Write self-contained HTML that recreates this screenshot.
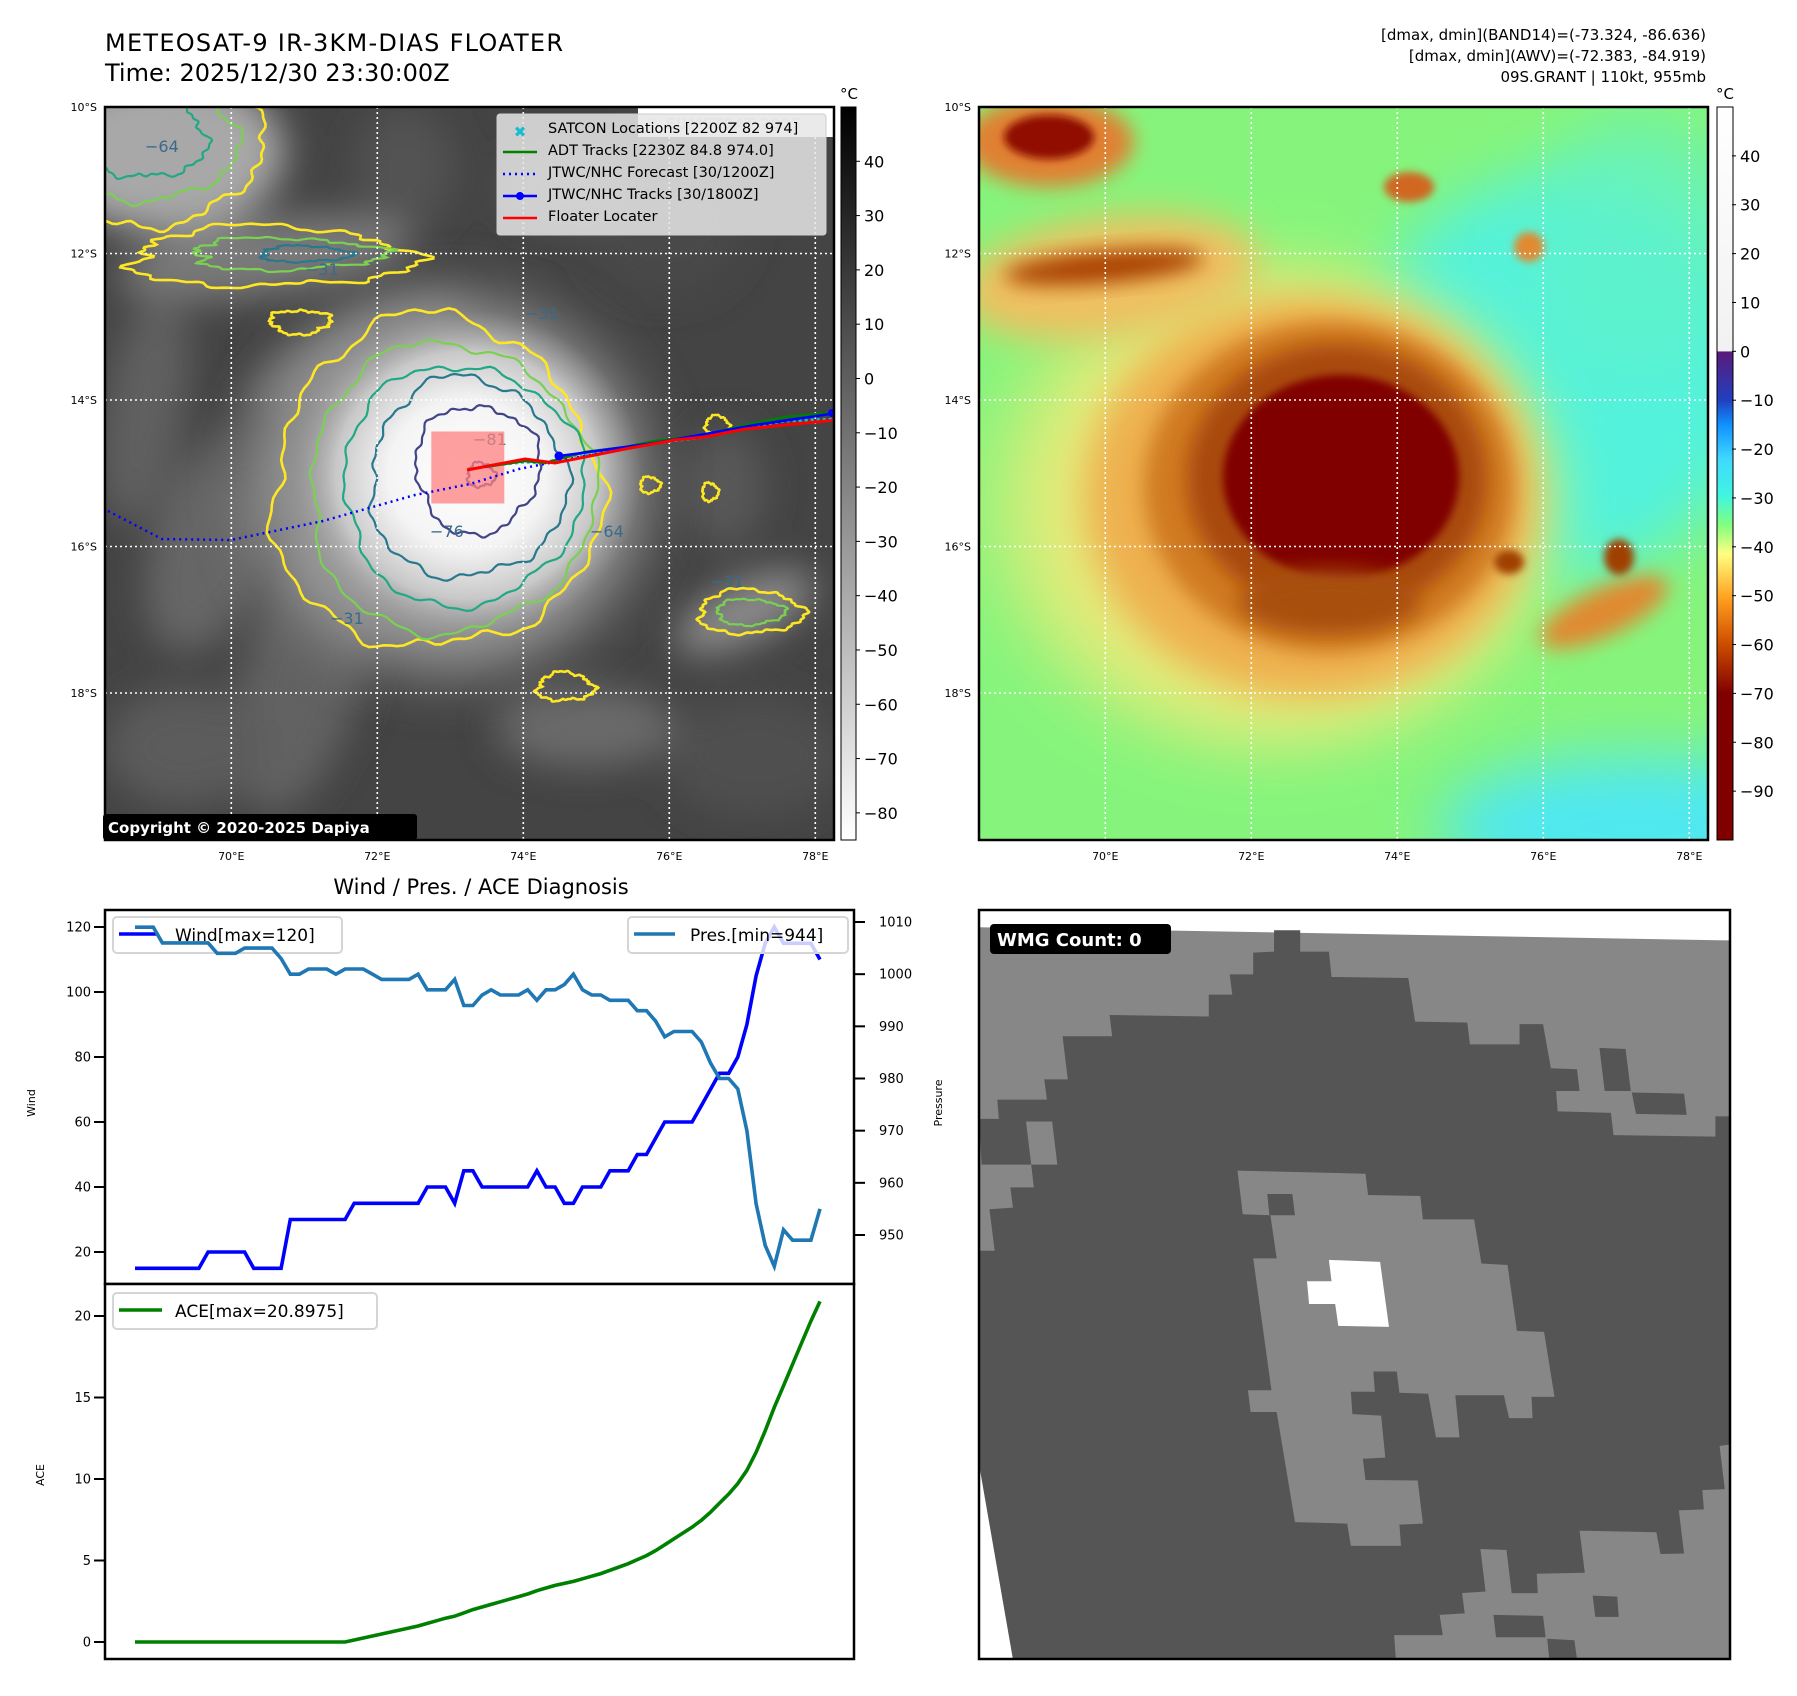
<!DOCTYPE html>
<html><head><meta charset="utf-8"><title>METEOSAT-9 IR Floater</title>
<style>
html,body{margin:0;padding:0;background:#fff;}
svg{display:block;font-family:"DejaVu Sans","Liberation Sans",sans-serif;}
</style></head>
<body>
<svg id="root" width="1797" height="1696" viewBox="0 0 1797 1696" xmlns="http://www.w3.org/2000/svg">
<defs>
  <filter id="b4" x="-50%" y="-50%" width="200%" height="200%"><feGaussianBlur stdDeviation="4"/></filter>
  <filter id="b10" x="-50%" y="-50%" width="200%" height="200%"><feGaussianBlur stdDeviation="10"/></filter>
  <filter id="b18" x="-50%" y="-50%" width="200%" height="200%"><feGaussianBlur stdDeviation="18"/></filter>
  <filter id="b30" x="-50%" y="-50%" width="200%" height="200%"><feGaussianBlur stdDeviation="30"/></filter>
  <clipPath id="clipIR"><rect x="0" y="0" width="729" height="733"/></clipPath>
  <clipPath id="clipAWV"><rect x="0" y="0" width="729" height="733"/></clipPath>
  <radialGradient id="coreIR" cx="0.5" cy="0.5" r="0.5">
    <stop offset="0" stop-color="#ffffff"/>
    <stop offset="0.45" stop-color="#f4f4f4"/>
    <stop offset="0.75" stop-color="#c8c8c8"/>
    <stop offset="1" stop-color="#9a9a9a" stop-opacity="0"/>
  </radialGradient>
  <linearGradient id="cbIR" x1="0" y1="0" x2="0" y2="1">
    <stop offset="0" stop-color="#000"/><stop offset="1" stop-color="#fff"/>
  </linearGradient>
  <linearGradient id="cbAWV" x1="0" y1="0" x2="0" y2="1">
    <stop offset="0" stop-color="#ffffff"/>
    <stop offset="0.32" stop-color="#f2f2f2"/>
    <stop offset="0.333" stop-color="#f2f2f2"/>
    <stop offset="0.334" stop-color="#5a1a7a"/>
    <stop offset="0.40" stop-color="#2040c0"/>
    <stop offset="0.433" stop-color="#1090ff"/>
    <stop offset="0.48" stop-color="#40d8ff"/>
    <stop offset="0.53" stop-color="#40f5e0"/>
    <stop offset="0.57" stop-color="#80ff80"/>
    <stop offset="0.61" stop-color="#ffff80"/>
    <stop offset="0.67" stop-color="#ffa020"/>
    <stop offset="0.73" stop-color="#d05000"/>
    <stop offset="0.80" stop-color="#800000"/>
    <stop offset="1" stop-color="#800000"/>
  </linearGradient>
</defs>

<!-- ===== Titles ===== -->
<text x="105" y="51" font-size="24" fill="#000" textLength="458">METEOSAT-9 IR-3KM-DIAS FLOATER</text>
<text x="105" y="81" font-size="24" fill="#000">Time: 2025/12/30 23:30:00Z</text>
<g font-size="15" fill="#000" text-anchor="end">
  <text x="1706" y="40">[dmax, dmin](BAND14)=(-73.324, -86.636)</text>
  <text x="1706" y="61">[dmax, dmin](AWV)=(-72.383, -84.919)</text>
  <text x="1706" y="82">09S.GRANT | 110kt, 955mb</text>
</g>

<!-- ===== IR map ===== -->
<g id="irmap" transform="translate(105,107)">
  <g clip-path="url(#clipIR)">
    <rect x="0" y="0" width="732" height="733" fill="#444444"/>
    <g id="irTexture" filter="url(#b18)"></g>
    <ellipse cx="345" cy="378" rx="195" ry="185" fill="#9a9a9a" filter="url(#b30)"/>
    <ellipse cx="362" cy="368" rx="175" ry="165" fill="url(#coreIR)"/>
    <g id="irContours" fill="none" stroke-width="2.2"></g>
    <g id="gridIR" stroke="#fff" stroke-width="1.6" stroke-dasharray="2,3"></g>
    <g id="tracks"></g>
    <rect x="533" y="0" width="195" height="30" fill="#fff"/>
    <text x="540" y="22" font-size="15" fill="#dcdcdc" font-weight="bold">© EUMETSAT 2025</text>
  </g>
  <rect x="0" y="0" width="729" height="733" fill="none" stroke="#000" stroke-width="2.5"/>
</g>
<!-- IR legend -->
<g>
  <rect x="497" y="114" width="329" height="121" rx="3" fill="#e6e6e6" fill-opacity="0.85" stroke="#cfcfcf"/>
  <text x="520" y="137" font-size="15" font-weight="bold" fill="#17becf" text-anchor="middle">✖</text>
  <line x1="503" y1="152" x2="537" y2="152" stroke="#008000" stroke-width="2.5"/>
  <line x1="503" y1="174" x2="537" y2="174" stroke="#0000ff" stroke-width="2.5" stroke-dasharray="2,4"/>
  <line x1="503" y1="196" x2="537" y2="196" stroke="#0000ff" stroke-width="2.5"/>
  <circle cx="520" cy="196" r="4" fill="#0000ff"/>
  <line x1="503" y1="218" x2="537" y2="218" stroke="#ff0000" stroke-width="2.5"/>
  <g font-size="14.5" fill="#000">
    <text x="548" y="133">SATCON Locations [2200Z 82 974]</text>
    <text x="548" y="155">ADT Tracks [2230Z 84.8 974.0]</text>
    <text x="548" y="177">JTWC/NHC Forecast [30/1200Z]</text>
    <text x="548" y="199">JTWC/NHC Tracks [30/1800Z]</text>
    <text x="548" y="221">Floater Locater</text>
  </g>
</g>
<g>
  <rect x="103" y="814" width="314" height="26" rx="3" fill="#000"/>
  <text x="108" y="833" font-size="15" font-weight="bold" fill="#fff">Copyright © 2020-2025 Dapiya</text>
</g>
<!-- IR colorbar -->
<g>
  <rect x="841" y="107" width="15" height="733" fill="url(#cbIR)" stroke="#000" stroke-width="1"/>
  <text x="849" y="99" font-size="15" text-anchor="middle">°C</text>
  <g id="cbIRticks" font-size="16" fill="#000"></g>
</g>

<!-- ===== AWV map ===== -->
<g id="awvmap" transform="translate(979,107)">
  <g clip-path="url(#clipAWV)">
    <rect x="0" y="0" width="733" height="733" fill="#86f47c"/>
    <g id="awvFill"></g>
    <g id="gridAWV" stroke="#fff" stroke-width="1.6" stroke-dasharray="2,3"></g>
  </g>
  <rect x="0" y="0" width="729" height="733" fill="none" stroke="#000" stroke-width="2.5"/>
</g>
<g>
  <rect x="1717" y="107" width="16" height="733" fill="url(#cbAWV)" stroke="#000" stroke-width="1"/>
  <text x="1725" y="99" font-size="15" text-anchor="middle">°C</text>
  <g id="cbAWVticks" font-size="16" fill="#000"></g>
</g>

<!-- ===== Diagnosis chart ===== -->
<text x="481" y="894" font-size="21" text-anchor="middle">Wind / Pres. / ACE Diagnosis</text>
<g id="chart"></g>

<!-- ===== WMG panel ===== -->
<g transform="translate(979,910)">
  <svg x="0" y="0" width="751" height="749" viewBox="0 18 1438 1477" preserveAspectRatio="none">
    <rect x="0" y="18" width="1438" height="1477" fill="#fff"/>
    <polygon points="0,52 1438,78 1438,1495 65,1495 0,1110" fill="#878787"/>
    <polygon fill="#555555" points="565,58 615,58 615,100 670,100 675,150 822,152 835,238 935,240 940,283 1035,283 1035,243 1080,243 1095,330 1145,332 1150,375 1105,375 1108,415 1210,418 1215,462 1410,465 1410,425 1438,425 1438,1072 1418,1075 1428,1160 1385,1162 1388,1200 1340,1202 1350,1287 1305,1288 1297,1245 1150,1242 1160,1325 1068,1327 1070,1365 1020,1365 1010,1280 960,1278 970,1362 925,1365 930,1405 882,1408 888,1448 795,1448 798,1495 65,1495 0,1110 0,690 30,690 20,608 65,605 60,565 105,565 100,520 5,520 0,430 38,430 35,392 130,392 125,352 170,352 160,267 255,267 250,225 440,228 440,185 485,185 480,145 525,145 525,102 565,100"/>
    <polygon fill="#878787" points="90,435 140,435 150,520 100,520"/>
    <polygon fill="#878787" points="495,532 740,538 745,580 845,582 850,628 948,628 962,715 1012,718 1030,848 1082,850 1102,978 1058,978 1060,1020 1015,1020 1005,975 912,975 920,1058 875,1058 860,972 805,970 800,928 755,928 758,968 712,968 715,1012 770,1015 778,1098 735,1100 740,1142 840,1143 850,1228 805,1230 808,1272 712,1272 705,1228 605,1225 570,1008 520,1008 515,965 560,965 525,705 570,705 558,620 505,618"/>
    <polygon fill="#555555" points="552,578 600,578 605,620 556,620"/>
    <polygon fill="#ffffff" points="670,708 768,712 785,840 688,838 682,795 632,795 628,750 675,750"/>
    <polygon fill="#555555" points="1188,290 1238,292 1248,375 1198,375"/>
    <polygon fill="#555555" points="1250,378 1350,380 1355,422 1258,420"/>
    <polygon fill="#555555" points="1175,1370 1222,1372 1225,1412 1180,1412"/>
    <polygon fill="#555555" points="985,1408 1080,1410 1085,1452 990,1452"/>
    <polygon fill="#555555" points="1088,1455 1140,1458 1145,1495 1092,1495"/>
  </svg>
  <rect x="0" y="0" width="751" height="749" fill="none" stroke="#000" stroke-width="2.5"/>
  <rect x="11" y="14" width="181" height="30" rx="4" fill="#000"/>
  <text x="18" y="36" font-size="18" font-weight="bold" fill="#fff">WMG Count: 0</text>
</g>

<script>
// ---------------- Chart data (6-hourly) ----------------
const windKt = [15,15,15,15,15,15,15,15,20,20,20,20,20,15,15,15,15,30,30,30,30,30,30,30,35,35,35,35,35,35,35,35,40,40,40,35,45,45,40,40,40,40,40,40,45,40,40,35,35,40,40,40,45,45,45,50,50,55,60,60,60,60,65,70,75,75,80,90,105,115,120,115,115,115,115,110];
const presMb = [1009,1009,1009,1006,1006,1006,1006,1006,1006,1004,1004,1004,1005,1005,1005,1005,1003,1000,1000,1001,1001,1001,1000,1001,1001,1001,1000,999,999,999,999,1000,997,997,997,999,994,994,996,997,996,996,996,997,995,997,997,998,1000,997,996,996,995,995,995,993,993,991,988,989,989,989,987,983,980,980,978,970,956,948,944,951,949,949,949,955];
const aceVals = [0,0,0,0,0,0,0,0,0,0,0,0,0,0,0,0,0,0,0,0,0,0,0,0,0.1225,0.245,0.3675,0.49,0.6125,0.735,0.8575,0.98,1.14,1.3,1.46,1.5825,1.785,1.9875,2.1475,2.3075,2.4675,2.6275,2.7875,2.9475,3.15,3.31,3.47,3.5925,3.715,3.875,4.035,4.195,4.3975,4.6,4.8025,5.0525,5.3025,5.605,5.965,6.325,6.685,7.045,7.4675,7.9575,8.52,9.0825,9.7225,10.5325,11.635,12.9575,14.3975,15.72,17.0425,18.365,19.6875,20.8975];
const windTicks = [20,40,60,80,100,120];
const presTicks = [950,960,970,980,990,1000,1010];
const aceTicks = [0,5,10,15,20];
const irTicks = [40,30,20,10,0,-10,-20,-30,-40,-50,-60,-70,-80];
const awvTicks = [40,30,20,10,0,-10,-20,-30,-40,-50,-60,-70,-80,-90];
const latTicks = [10,12,14,16,18];
const lonTicks = [70,72,74,76,78];

const NS = 'http://www.w3.org/2000/svg';
function mk(tag, attrs, parent){const e=document.createElementNS(NS,tag);for(const k in attrs)e.setAttribute(k,attrs[k]);if(parent)parent.appendChild(e);return e;}
function txt(s){return s<0?'\u2212'+Math.abs(s):String(s);}

const X0=105, X1=854, TOP=910, MID=1284, BOT=1659;
const xi = i => 135 + i*(820-135)/(windKt.length-1);
const yW = v => 1252 - (v-20)*3.25;
const yP = p => 1235 - (p-950)*(313/60);
const yA = a => 1642 - a*16.3;

const chart = document.getElementById('chart');
let f1 = mk('rect',{x:X0,y:TOP,width:X1-X0,height:MID-TOP,fill:'#fff',stroke:'#000','stroke-width':2.5},chart);


let f2 = mk('rect',{x:X0,y:MID,width:X1-X0,height:BOT-MID,fill:'#fff',stroke:'#000','stroke-width':2.5},chart);



windTicks.forEach(v=>{
  mk('line',{x1:X0-11,y1:yW(v),x2:X0,y2:yW(v),stroke:'#000','stroke-width':2},chart);
  const t=mk('text',{x:X0-14,y:yW(v)+4.5,'font-size':13,'text-anchor':'end'},chart);t.textContent=v;
  
  
});
presTicks.forEach(v=>{
  mk('line',{x1:X1,y1:yP(v),x2:X1+11,y2:yP(v),stroke:'#000','stroke-width':2},chart);
  const t=mk('text',{x:X1+25,y:yP(v)+4.5,'font-size':13},chart);t.textContent=v;
  
  
});
aceTicks.forEach(v=>{
  mk('line',{x1:X0-11,y1:yA(v),x2:X0,y2:yA(v),stroke:'#000','stroke-width':2},chart);
  const t=mk('text',{x:X0-14,y:yA(v)+4.5,'font-size':13,'text-anchor':'end'},chart);t.textContent=v;
  
  
});
let yl=mk('text',{x:0,y:0,'font-size':11,'text-anchor':'middle',transform:'translate(35,1103) rotate(-90)'},chart);yl.textContent='Wind';


let yl2=mk('text',{x:0,y:0,'font-size':11,'text-anchor':'middle',transform:'translate(942,1103) rotate(-90)'},chart);yl2.textContent='Pressure';


let yl3=mk('text',{x:0,y:0,'font-size':11,'text-anchor':'middle',transform:'translate(44,1475) rotate(-90)'},chart);yl3.textContent='ACE';



function poly(vals, yf){return vals.map((v,i)=>xi(i).toFixed(1)+','+yf(v).toFixed(1)).join(' ');}
let wl=mk('polyline',{points:poly(windKt,yW),fill:'none',stroke:'#0000ff','stroke-width':3.6,'stroke-linejoin':'miter'},chart);


let lg1=mk('g',{},chart);


mk('rect',{x:113,y:917,width:229,height:36,rx:4,fill:'#fff','fill-opacity':0.8,stroke:'#d5d5d5','stroke-width':2},lg1);
mk('line',{x1:119,y1:934,x2:158,y2:934,stroke:'#0000ff','stroke-width':3.6},lg1);
let lt1=mk('text',{x:175,y:941,'font-size':17},lg1);lt1.textContent='Wind[max=120]';
let pl=mk('polyline',{points:poly(presMb,yP),fill:'none',stroke:'#1f77b4','stroke-width':3.6},chart);


let lg2=mk('g',{},chart);


mk('rect',{x:628,y:917,width:220,height:36,rx:4,fill:'#fff','fill-opacity':0.8,stroke:'#d5d5d5','stroke-width':2},lg2);
mk('line',{x1:634,y1:934,x2:675,y2:934,stroke:'#1f77b4','stroke-width':3.6},lg2);
let lt2=mk('text',{x:690,y:941,'font-size':17},lg2);lt2.textContent='Pres.[min=944]';
let al=mk('polyline',{points:poly(aceVals,yA),fill:'none',stroke:'#008000','stroke-width':3.6},chart);


let lg3=mk('g',{},chart);


mk('rect',{x:113,y:1293,width:264,height:36,rx:4,fill:'#fff','fill-opacity':0.8,stroke:'#d5d5d5','stroke-width':2},lg3);
mk('line',{x1:119,y1:1310,x2:162,y2:1310,stroke:'#008000','stroke-width':3.6},lg3);
let lt3=mk('text',{x:175,y:1317,'font-size':17},lg3);lt3.textContent='ACE[max=20.8975]';

// ---------------- map helpers ----------------
const LON0=68.27, LAT0=10, PX=73.0;
const mx = lon => (lon-LON0)*PX;
const my = lat => (lat-LAT0)*73.25;

function grid(id){
  const g=document.getElementById(id);
  [12,14,16,18].forEach(l=>mk('line',{x1:0,y1:my(l),x2:733,y2:my(l)},g));
  lonTicks.forEach(l=>mk('line',{x1:mx(l),y1:0,x2:mx(l),y2:733},g));
}
grid('gridIR'); grid('gridAWV');

function mapLabels(ox){
  latTicks.forEach(l=>{
    const t=mk('text',{x:ox-8,y:107+my(l)+4,'font-size':11,'text-anchor':'end'},document.getElementById('root'));
    t.textContent=l+'°S';
    
    
  });
  lonTicks.forEach(l=>{
    const t=mk('text',{x:ox+mx(l),y:860,'font-size':11,'text-anchor':'middle'},document.getElementById('root'));
    t.textContent=l+'°E';
    
    
  });
}
mapLabels(105); mapLabels(979);

function cbTicks(id, ticks, x, vTop, vBot){
  const g=document.getElementById(id);
  ticks.forEach(v=>{
    const y=107+(vTop-v)/(vTop-vBot)*733;
    mk('line',{x1:x-8,y1:y,x2:x-4,y2:y,stroke:'#000','stroke-width':1},g);
    const t=mk('text',{x:x,y:y+6},g);t.textContent=txt(v);
    
    
  });
}
cbTicks('cbIRticks',irTicks,864,50,-85);
cbTicks('cbAWVticks',awvTicks,1740,50,-100);

function ring(cx,cy,rx,ry,amp,ph){
  let d='';const n=160;
  for(let k=0;k<=n;k++){
    const t=k/n*Math.PI*2;
    const r=1+amp*(0.5*Math.sin(3*t+ph)+0.3*Math.sin(7*t+ph*2)+0.25*Math.sin(13*t+ph*3)+0.15*Math.sin(29*t+ph));
    const x=cx+rx*r*Math.cos(t), y=cy+ry*r*Math.sin(t);
    d+=(k?'L':'M')+x.toFixed(1)+','+y.toFixed(1);
  }
  return d+'Z';
}
const tex=document.getElementById('irTexture');
[[60,45,120,80,'#a8a8a8',0],[160,150,150,38,'#7a7a7a',-8],[250,250,120,40,'#6a6a6a',-25],[200,560,60,150,'#626262',15],[110,430,60,120,'#666',20],
 [640,505,75,30,'#8a8a8a',-25],[560,120,80,70,'#4a4a4a',0],[480,620,90,40,'#6a6a6a',0],[80,640,80,60,'#5c5c5c',0],[650,650,90,60,'#505050',0],
 [460,80,60,40,'#585858',0],[300,60,50,60,'#525252',0],[40,300,40,120,'#606060',10],[620,380,40,60,'#585858',0],[150,350,50,30,'#5c5c5c',0]].forEach(a=>{
  mk('ellipse',{cx:a[0],cy:a[1],rx:a[2],ry:a[3],fill:a[4],transform:`rotate(${a[5]} ${a[0]} ${a[1]})`},tex);
});
const cg=document.getElementById('irContours');
function cont(d,c,w){const p=mk('path',{d:d,stroke:c,'stroke-width':w||2.2},cg);return p;}
cont(ring(330,378,163,166,0.09,0.4),'#fde725',2.6);
cont(ring(345,382,142,145,0.07,1.3),'#7ad151');
cont(ring(357,378,120,120,0.07,2.1),'#22a884');
cont(ring(362,372,98,100,0.09,0.8),'#2a788e');
cont(ring(372,362,62,64,0.1,2.6),'#414487');
cont(ring(376,368,14,12,0.2,1.0),'#414487');
cont(ring(165,150,140,30,0.18,0.7),'#fde725',2.6);
cont(ring(180,147,95,16,0.2,1.7),'#7ad151');
cont(ring(200,147,45,8,0.2,1.1),'#2a788e');
cont(ring(50,40,105,78,0.12,2.2),'#fde725',2.6);
cont(ring(45,35,85,60,0.12,1.2),'#7ad151');
cont(ring(40,30,60,42,0.15,0.2),'#22a884');
cont(ring(645,505,52,22,0.15,0.9),'#fde725',2.6);
cont(ring(645,505,34,13,0.15,1.9),'#7ad151');
cont(ring(195,215,30,12,0.2,2.9),'#fde725',2.6);
cont(ring(460,580,28,14,0.2,0.5),'#fde725',2.6);
cont(ring(612,318,12,9,0.2,0.5),'#fde725',2.4);
cont(ring(545,378,10,8,0.2,1.5),'#fde725',2.4);
cont(ring(605,385,8,9,0.2,1.5),'#fde725',2.4);
[['−31',200,168],['−31',420,212],['−64',40,45],['−64',485,430],['−76',325,430],['−81',368,338],['−31',605,480],['−31',225,517]].forEach(a=>{
  const t=mk('text',{x:a[1],y:a[2],'font-size':16,fill:'#3a6a8a'},cg);t.textContent=a[0];
});

const tr=document.getElementById('tracks');
let fr=mk('rect',{x:mx(72.74),y:my(14.43),width:73,height:72,fill:'#ff8080','fill-opacity':0.75},tr);


mk('polyline',{points:[[3,404],[57,432],[126,433],[218,414],[310,388],[365,377],[414,362],[530,339],[733,305]].map(p=>p.join(',')).join(' '),fill:'none',stroke:'#0000ff','stroke-width':2.5,'stroke-dasharray':'2,4'},tr);
mk('polyline',{points:'380,359 420,355 440,356 460,350 480,347 520,342 550,336 600,330 640,320 680,314 732,312',fill:'none',stroke:'#17becf','stroke-width':3,'stroke-dasharray':'3,3'},tr);
mk('polyline',{points:'380,360 420,354 440,356 480,345 520,340 550,334 600,328 640,318 680,310 732,305',fill:'none',stroke:'#008000','stroke-width':2.5},tr);
mk('polyline',{points:'454,349 550,336 650,318 732,306',fill:'none',stroke:'#0000ff','stroke-width':2.5},tr);
mk('circle',{cx:454,cy:349,r:4.5,fill:'#0000ff'},tr);
mk('circle',{cx:727,cy:306,r:4,fill:'#0000ff'},tr);
mk('polyline',{points:'362,363 420,352 450,356 520,342 570,333 600,330 640,322 680,318 732,313',fill:'none',stroke:'#ff0000','stroke-width':3},tr);

// AWV field
const af=document.getElementById('awvFill');
function blob(cx,cy,rx,ry,c,fl,rot,op){mk('ellipse',{cx,cy,rx,ry,fill:c,filter:'url(#'+fl+')',transform:`rotate(${rot||0} ${cx} ${cy})`,'fill-opacity':op==null?1:op},af);}
blob(580,270,200,200,'#52f2dc','b30');
blob(660,720,200,70,'#50e8f0','b30');
blob(660,140,110,130,'#60f2c8','b30',0,0.7);
blob(290,400,290,250,'#b8f07a','b30',0,0.8);
blob(300,400,255,225,'#f0ea7a','b30',0,0.85);
blob(130,170,150,60,'#f0c060','b18',-8);
blob(70,35,85,45,'#e08030','b10');
blob(70,30,45,22,'#900a00','b4');
blob(125,160,100,16,'#a84000','b10',-5);
blob(330,390,225,200,'#eeb050','b18');
blob(350,380,185,165,'#d07a20','b10');
blob(358,372,150,135,'#a84808','b10');
blob(362,370,118,102,'#800000','b4');
blob(625,505,70,24,'#e08a30','b10',-25);
blob(350,495,90,32,'#a85010','b10');
blob(430,80,25,15,'#d06820','b4');
blob(550,140,15,15,'#e08a30','b4');
blob(640,450,15,18,'#a04000','b4');
blob(530,455,15,12,'#a04000','b4');
</script>
</svg>
</body></html>
